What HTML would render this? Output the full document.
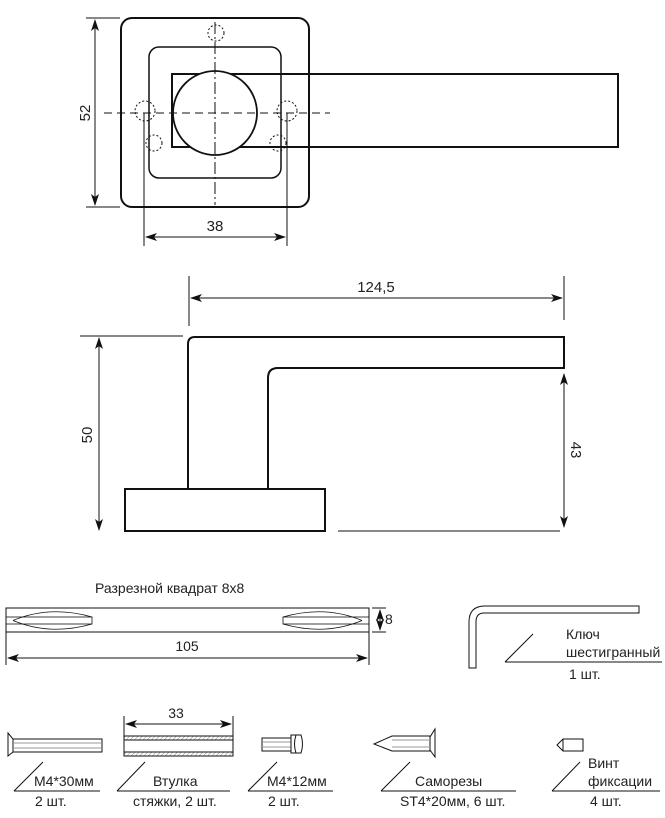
<!DOCTYPE html>
<html><head><meta charset="utf-8"><style>
html,body{margin:0;padding:0;background:#fff;}
svg{display:block;}
text{font-family:"Liberation Sans",sans-serif;fill:#222;}
</style></head><body>
<svg width="665" height="818" viewBox="0 0 665 818" xmlns="http://www.w3.org/2000/svg">
<defs>
<marker id="a" markerWidth="12" markerHeight="8" refX="11" refY="4" orient="auto-start-reverse" markerUnits="userSpaceOnUse"><path d="M0,0 L12,4 L0,8 L3,4 Z" fill="#111"/></marker>
<pattern id="h" width="3" height="3" patternUnits="userSpaceOnUse" patternTransform="rotate(45)"><line x1="0" y1="0" x2="0" y2="3" stroke="#888" stroke-width="1"/></pattern>
</defs>
<g fill="none" stroke="#111">
<!-- top view -->
<rect x="121" y="18" width="188" height="189" rx="11" stroke-width="2"/>
<rect x="149" y="47" width="132" height="131" rx="10" stroke-width="1.5"/>
<rect x="172" y="74" width="446" height="73" stroke-width="2"/>
<circle cx="215" cy="113" r="42" fill="#fff" stroke-width="1.8"/>
<line x1="215" y1="22" x2="215" y2="205" stroke-width="1" stroke-dasharray="12,3,2,3"/>
<line x1="104" y1="113" x2="330" y2="113" stroke-width="1" stroke-dasharray="8,5"/>
<g stroke-width="1" stroke-dasharray="2,2">
<circle cx="216" cy="33" r="8"/><circle cx="145" cy="111" r="10"/><circle cx="287" cy="111" r="10"/>
<circle cx="154" cy="143" r="8"/><circle cx="278" cy="143" r="8"/>
</g>
<g stroke-width="1">
<line x1="86" y1="18" x2="120" y2="18"/><line x1="86" y1="207" x2="120" y2="207"/>
<line x1="95" y1="20" x2="95" y2="205" marker-start="url(#a)" marker-end="url(#a)"/>
<line x1="144" y1="113" x2="144" y2="246"/><line x1="287" y1="113" x2="287" y2="246"/>
<line x1="146" y1="237" x2="285" y2="237" marker-start="url(#a)" marker-end="url(#a)"/>
</g>
<!-- side view -->
<path d="M188,489 V344 Q188,337 195,337 H564 V368 H278 Q268,368 268,378 V489" stroke-width="2"/>
<rect x="125" y="489" width="200" height="42" stroke-width="2"/>
<g stroke-width="1">
<line x1="189" y1="276" x2="189" y2="326"/><line x1="564" y1="276" x2="564" y2="320"/>
<line x1="191" y1="298" x2="562" y2="298" marker-start="url(#a)" marker-end="url(#a)"/>
<line x1="80" y1="336" x2="183" y2="336"/>
<line x1="99" y1="338" x2="99" y2="530" marker-start="url(#a)" marker-end="url(#a)"/>
<line x1="338" y1="531" x2="560" y2="531"/>
<line x1="564" y1="374" x2="564" y2="527" marker-start="url(#a)" marker-end="url(#a)"/>
</g>
<!-- square bar -->
<rect x="6" y="608" width="363" height="24" stroke-width="1"/>
<g stroke-width="0.8">
<rect x="6" y="617" width="86" height="7"/>
<path d="M13,620.5 Q50,605 92,617 M13,620.5 Q50,636 92,624"/>
<rect x="283" y="617" width="86" height="7"/>
<path d="M362,620.5 Q325,605 283,617 M362,620.5 Q325,636 283,624"/>
</g>
<g stroke-width="1">
<line x1="372" y1="608" x2="386" y2="608"/><line x1="372" y1="632" x2="386" y2="632"/>
<line x1="380" y1="610" x2="380" y2="630" marker-start="url(#a)" marker-end="url(#a)"/>
<line x1="6" y1="632" x2="6" y2="665"/><line x1="369" y1="632" x2="369" y2="665"/>
<line x1="8" y1="658" x2="367" y2="658" marker-start="url(#a)" marker-end="url(#a)"/>
</g>
<!-- hex key -->
<path d="M469,668 V622 Q469,606 485,606 H639 V613 H484 Q476,613 476,622 V668 Z" stroke-width="1"/>
<g stroke-width="1">
<line x1="505" y1="662" x2="533" y2="634"/><line x1="505" y1="662" x2="662" y2="662"/>
</g>
<!-- bottom parts -->
<g stroke-width="1">
<path d="M8,733 L13,739 V752 L8,756 Z"/>
<rect x="13" y="739" width="89" height="13"/>
<line x1="13" y1="743" x2="102" y2="743" stroke="#999"/><line x1="13" y1="748" x2="102" y2="748" stroke="#999"/>
<line x1="14" y1="791" x2="43" y2="762"/><line x1="14" y1="791" x2="100" y2="791"/>

<rect x="124" y="736" width="109" height="20"/>
<rect x="124" y="736" width="109" height="4" fill="url(#h)"/>
<rect x="124" y="752" width="109" height="4" fill="url(#h)"/>
<line x1="124" y1="716" x2="124" y2="736"/><line x1="233" y1="716" x2="233" y2="736"/>
<line x1="126" y1="724" x2="231" y2="724" marker-start="url(#a)" marker-end="url(#a)"/>
<line x1="117" y1="791" x2="145" y2="762"/><line x1="117" y1="791" x2="230" y2="791"/>

<rect x="262" y="738" width="29" height="13"/>
<line x1="262" y1="742" x2="291" y2="742" stroke="#999"/><line x1="262" y1="747" x2="291" y2="747" stroke="#999"/>
<path d="M291,735 H301 Q304,744 301,753 H291 Z"/>
<path d="M296,735 Q293,744 296,753"/>
<line x1="248" y1="791" x2="277" y2="762"/><line x1="248" y1="791" x2="333" y2="791"/>

<path d="M374,744 L392,736 H430 V751 H392 Z"/>
<line x1="392" y1="740" x2="430" y2="740" stroke="#999"/><line x1="392" y1="747" x2="430" y2="747" stroke="#999"/>
<path d="M430,737 L435,729 V757 L430,750"/>
<line x1="381" y1="791" x2="410" y2="762"/><line x1="381" y1="791" x2="516" y2="791"/>

<path d="M557,745 L563,739 H583 V751 H563 Z"/>
<line x1="563" y1="739" x2="563" y2="751"/>
<line x1="552" y1="791" x2="580" y2="762"/><line x1="552" y1="791" x2="660" y2="791"/>
</g>
</g>
<g font-size="15">
<text x="0" y="0" transform="translate(90,113) rotate(-90)" text-anchor="middle">52</text>
<text x="215" y="231" text-anchor="middle">38</text>
<text x="376" y="292" text-anchor="middle">124,5</text>
<text transform="translate(92,435) rotate(-90)" text-anchor="middle">50</text>
<text transform="translate(571,450) rotate(90)" text-anchor="middle">43</text>
</g>
<g font-size="14">
<text x="95" y="593">Разрезной квадрат 8x8</text>
<text x="385" y="624">8</text>
<text x="187" y="651" text-anchor="middle">105</text>
<text x="566" y="639">Ключ</text>
<text x="566" y="657">шестигранный</text>
<text x="569" y="679">1 шт.</text>
<text x="176" y="718" text-anchor="middle">33</text>
<text x="34" y="786">M4*30мм</text>
<text x="35" y="806">2 шт.</text>
<text x="153" y="786">Втулка</text>
<text x="133" y="806">стяжки, 2 шт.</text>
<text x="267" y="786">M4*12мм</text>
<text x="268" y="806">2 шт.</text>
<text x="415" y="786">Саморезы</text>
<text x="400" y="806">ST4*20мм, 6 шт.</text>
<text x="588" y="768">Винт</text>
<text x="588" y="786">фиксации</text>
<text x="590" y="806">4 шт.</text>
</g>
</svg>
</body></html>
